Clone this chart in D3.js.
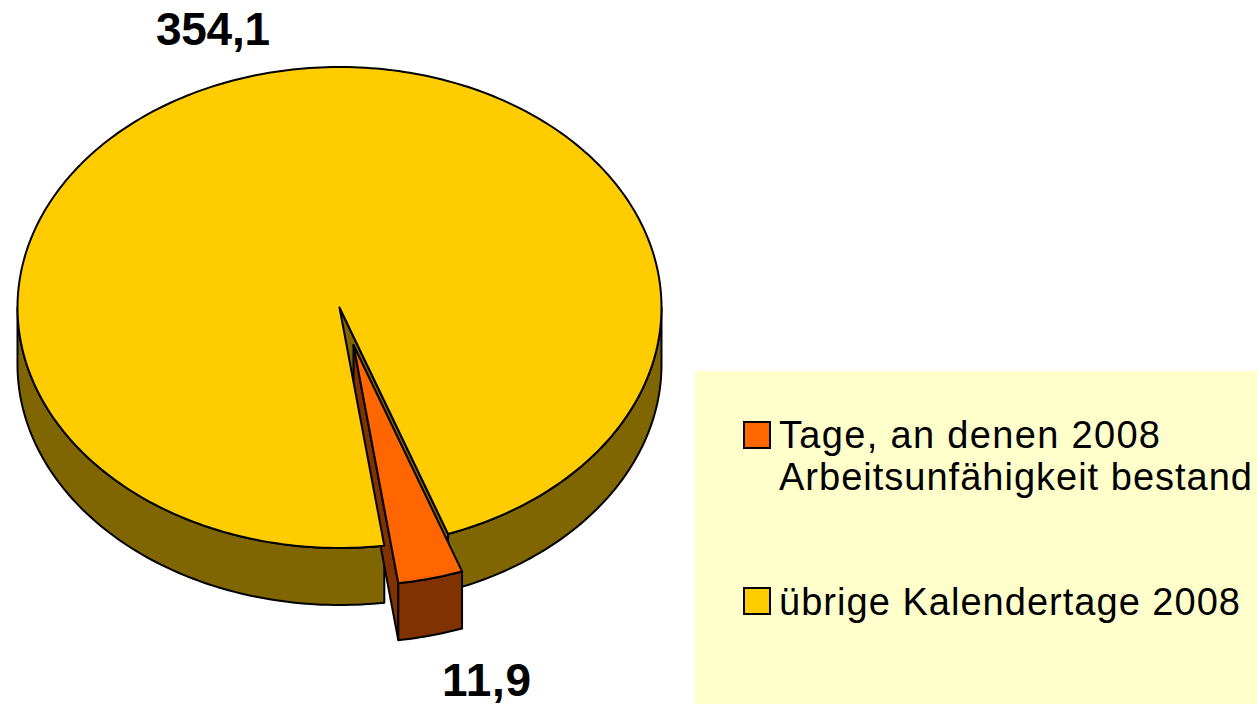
<!DOCTYPE html>
<html>
<head>
<meta charset="utf-8">
<script src="https://cdn.jsdelivr.net/npm/d3@7"></script>
<style>
  html, body { margin: 0; background: #fff; }
  svg { display: block; }
  text { font-family: "Liberation Sans", Arial, sans-serif; fill: #000; }
</style>
</head>
<body>
<div id="chart"></div>
<script>
const categories = ['Tage, an denen 2008 Arbeitsunfähigkeit bestand', 'übrige Kalendertage 2008']
const values = [11.9, 354.1]
const valueLabels = ['11,9', '354,1']
const legendLines = [['Tage, an denen 2008', 'Arbeitsunfähigkeit bestand'], ['übrige Kalendertage 2008']]
const topColors = ['#ff6600', '#ffcc00']
const sideColors = ['#803300', '#806600']

const width = 1257
const height = 706
const cx = 339.5
const cy = 307.5
const rx = 322
const ry = 240.5
const depth = 57
const explode = [14, 37.5] // how far the small slice is pulled out

const svg = d3.select('#chart')
  .append('svg')
  .attr('width', width)
  .attr('height', height)

const x = d3.scaleLinear().domain([-1, 1]).range([cx - rx, cx + rx])
const y = d3.scaleLinear().domain([-1, 1]).range([cy - ry, cy + ry])

const rad = d => d / 180 * Math.PI
const pie = d3.pie().sort(null).startAngle(rad(160.3)).endAngle(rad(520.3))
const slices = pie(values)
const small = slices[0]
const big = slices[1]

// point on the rim, with d3.pie's angle (0 = up, clockwise)
const rim = (a, dx = 0, dy = 0) => [x(Math.sin(a)) + dx, y(-Math.cos(a)) + dy]
const centre = (dx = 0, dy = 0) => [x(0) + dx, y(0) + dy]

const arcPoints = (a0, a1, dx = 0, dy = 0) => {
  const n = Math.max(2, Math.ceil(Math.abs(a1 - a0) / rad(1)))
  return d3.range(n + 1).map(i => rim(a0 + (a1 - a0) * i / n, dx, dy))
}

const line = d3.line()
const shape = (pts, fill) => svg.append('path')
  .attr('d', line(pts) + 'Z')
  .attr('fill', fill)
  .attr('stroke', '#000')
  .attr('stroke-width', 2)
  .attr('stroke-linejoin', 'round')

// outer wall of the big slice, only the part facing the viewer
const wall = (a0, a1, dx, dy, fill) => shape(
  arcPoints(a0, a1, dx, dy).concat(arcPoints(a1, a0, dx, dy + depth)), fill)

wall(rad(90), small.startAngle, 0, 0, sideColors[1])
wall(small.endAngle, rad(270), 0, 0, sideColors[1])

// cut face of the big slice, seen through the gap
shape([centre(), rim(small.startAngle), rim(small.startAngle, 0, depth), centre(0, depth)], sideColors[1])

// walls of the pulled out slice
const [ex, ey] = explode
shape([centre(ex, ey), rim(small.endAngle, ex, ey), rim(small.endAngle, ex, ey + depth), centre(ex, ey + depth)], sideColors[0])
wall(small.startAngle, small.endAngle, ex, ey, sideColors[0])

// top faces
shape([centre()].concat(arcPoints(big.startAngle, big.endAngle)), topColors[1])
shape([centre(ex, ey)].concat(arcPoints(small.startAngle, small.endAngle, ex, ey)), topColors[0])

// value labels
const labelPos = [[486.5, 696], [213, 45]]
const labelWidths = [89, 114]
svg.selectAll('.value')
  .data(valueLabels)
  .enter()
  .append('text')
  .attr('class', 'value')
  .attr('x', (d, i) => labelPos[i][0])
  .attr('y', (d, i) => labelPos[i][1])
  .attr('text-anchor', 'middle')
  .attr('font-size', 46)
  .attr('font-weight', 'bold')
  .attr('textLength', (d, i) => labelWidths[i])
  .text(d => d)

// legend
svg.append('rect')
  .attr('x', 695).attr('y', 371)
  .attr('width', 562).attr('height', 333)
  .attr('fill', '#ffffcc')

const swatchY = [422, 588]
const textY = [448, 615]
const lineWidths = [[381, 473], [461]]
const legend = svg.selectAll('.legend')
  .data(categories)
  .enter()
  .append('g')
  .attr('class', 'legend')

legend.append('rect')
  .attr('x', 744)
  .attr('y', (d, i) => swatchY[i])
  .attr('width', 26)
  .attr('height', 26)
  .attr('fill', (d, i) => topColors[i])
  .attr('stroke', '#000')
  .attr('stroke-width', 2)

legend.each(function (d, i) {
  d3.select(this).selectAll('text')
    .data(legendLines[i])
    .enter()
    .append('text')
    .attr('x', 779)
    .attr('y', (t, j) => textY[i] + j * 42)
    .attr('font-size', 38)
    .attr('textLength', (t, j) => lineWidths[i][j])
    .text(t => t)
})
</script>
</body>
</html>
